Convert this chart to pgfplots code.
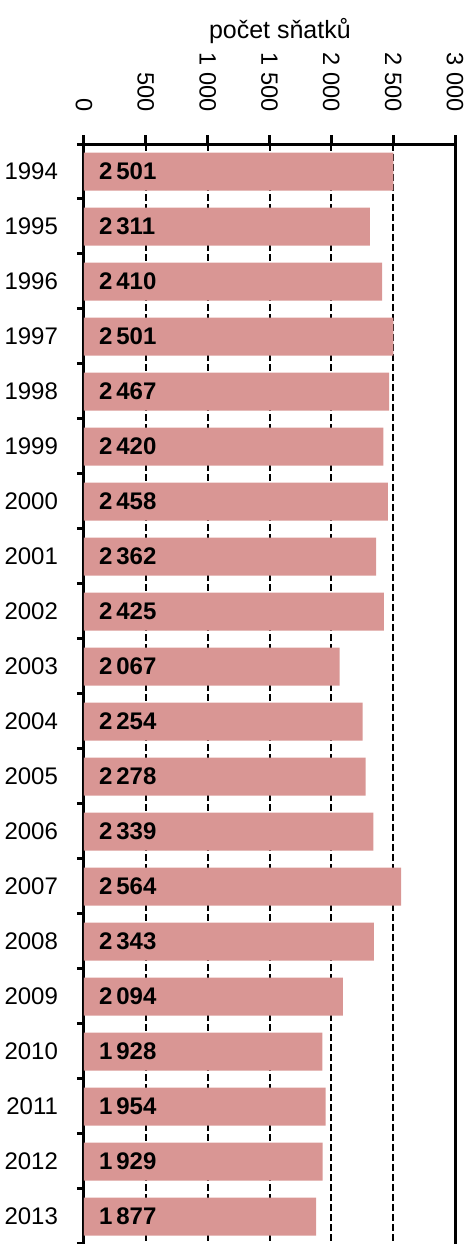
\documentclass[border=0pt]{standalone}
\usepackage{pgfplots}
\pgfplotsset{compat=1.18}
\usepackage{pgfplotstable}
\usepackage{fontspec}
\setmainfont{Liberation Sans}
\definecolor{barc}{HTML}{D99694}
\pgfplotstableread{
year val
1994 2501
1995 2311
1996 2410
1997 2501
1998 2467
1999 2420
2000 2458
2001 2362
2002 2425
2003 2067
2004 2254
2005 2278
2006 2339
2007 2564
2008 2343
2009 2094
2010 1928
2011 1954
2012 1929
2013 1877
}\data
\begin{document}
\begin{tikzpicture}
\begin{axis}[
  name=ax,
  scale only axis, width=185.5pt, height=550pt,
  xmin=0, xmax=3000, ymin=1993.5, ymax=2013.5, y dir=reverse,
  axis x line*=top, axis y line*=left,
  axis line style={line width=1.5pt, -},
  tick align=outside,
  xtick={0,500,...,2500},
  xticklabel shift=8pt,
  xticklabel style={rotate=-90, anchor=east, font=\fontsize{11.8}{13}\selectfont,
    /pgf/number format/1000 sep={\ }},
  /pgf/number format/assume math mode=true,
  major x tick style={line width=1.5pt, black},
  major tick length=4.5pt,
  xmajorgrids,
  grid style={black, line width=1pt, dash pattern=on 3.5pt off 1.5pt},
  extra x ticks={3000}, extra x tick labels={3\ 000},
  extra x tick style={grid style={solid, black, line width=1.5pt}, major x tick style={line width=1.5pt, black}},
  ytick={1994,...,2013},
  yticklabel shift=5pt,
  yticklabel style={font=\fontsize{12}{13}\selectfont, /pgf/number format/1000 sep={}},
  major y tick style={draw=none},
  minor ytick={1993.5,1994.5,...,2013.5},
  minor y tick style={line width=1.5pt, black},
  minor tick length=3.5pt,
  xlabel={počet sňatků},
  xlabel style={at={(rel axis cs:0.528,1)}, anchor=base, yshift=53pt, font=\fontsize{12.5}{14}\selectfont},
  clip=false,
]
\addplot[xbar, bar width=19pt, fill=barc, draw=none] table[x=val, y=year] {\data};
\addplot[draw=none, mark=none, point meta=explicit,
  nodes near coords={\pgfmathprintnumber[1000 sep={\,}]{\pgfplotspointmeta}},
  every node near coord/.style={anchor=west, xshift=4pt, font=\bfseries\fontsize{12}{13}\selectfont}]
  table[x expr=0, y=year, meta=val] {\data};
\end{axis}
\pgfresetboundingbox
\path[use as bounding box] (ax.north west) ++(-42pt,72pt) rectangle ([xshift=194pt]ax.south west);
\end{tikzpicture}
\end{document}
